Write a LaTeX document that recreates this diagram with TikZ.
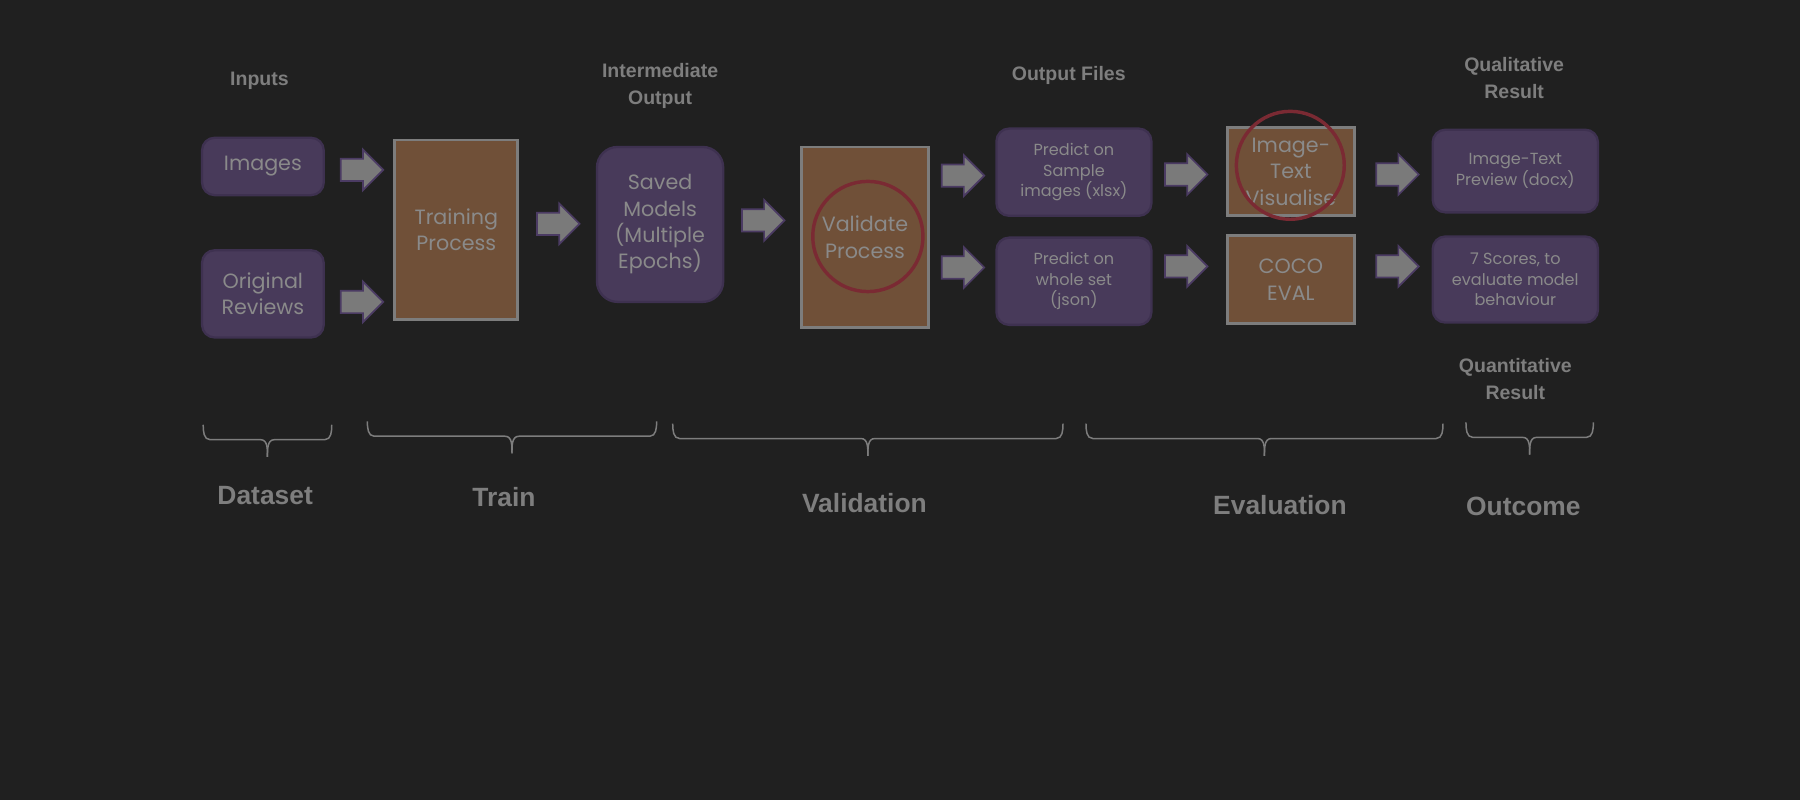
\documentclass[tikz,border=0pt]{standalone}
\usepackage{fontspec}
\newfontfamily\boxfont{Poppins}
\newfontfamily\headfont{Liberation Sans}
\usetikzlibrary{shapes.arrows,positioning}

\definecolor{bgdark}{HTML}{202020}
\definecolor{purplebox}{HTML}{483A5A}
\definecolor{purpleline}{HTML}{3E3150}
\definecolor{brownbox}{HTML}{705038}
\definecolor{greyline}{HTML}{7D7D7D}
\definecolor{greytext}{HTML}{8A8A8A}
\definecolor{headgrey}{HTML}{7E7E7E}
\definecolor{ringred}{HTML}{7A2A33}
\definecolor{arrowfill}{HTML}{7A7A7A}
\definecolor{arrowline}{HTML}{4B3B63}

\begin{document}
\begin{tikzpicture}[
x=1pt,y=-1pt,
file/.style={
  draw=purpleline,
  fill=purplebox,
  line width=2pt,
  rounded corners=11pt,
  align=center,
  text=greytext,
  font=\boxfont\fontsize{18}{23}\selectfont,
  inner sep=2pt
  },
small/.style={
  font=\boxfont\fontsize{14}{18}\selectfont
  },
process/.style={
  draw=greyline,
  fill=brownbox,
  line width=2.5pt,
  align=center,
  text=greytext,
  font=\boxfont\fontsize{18}{23}\selectfont,
  inner sep=2pt
  },
ring/.style={
  draw=ringred,
  line width=3pt,
  circle,
  inner sep=0pt
  },
flow/.style={
  single arrow,
  draw=arrowline,
  fill=arrowfill,
  line width=1.5pt,
  inner xsep=0pt,
  inner ysep=9pt,
  minimum width=34pt,
  minimum height=37pt,
  single arrow head extend=8pt
  },
head/.style={
  align=center,
  text=headgrey,
  font=\headfont\bfseries\fontsize{17}{23}\selectfont
  },
stage/.style={
  text=headgrey,
  font=\headfont\bfseries\fontsize{23}{27}\selectfont
  },
brace line/.style={
  draw=greyline,
  line width=1.3pt
  }
]
\fill[bgdark] (0,0) rectangle (1568,697);
\useasboundingbox (0,0) rectangle (1568,697);

% dataset
\node[file, minimum width=106pt, minimum height=50pt] (images) at (229,145) {Images};
\node[file, minimum width=106pt, minimum height=76pt] (reviews) at (229,256) {Original\\Reviews};

% train
\node[process, minimum width=107pt, minimum height=156pt] (train) at (397.5,200) {Training\\Process};
\node[file, rounded corners=18pt, minimum width=110pt, minimum height=135pt] (models) at (575,195.5) {Saved\\Models\\(Multiple\\Epochs)};

% validation
\node[process, minimum width=111pt, minimum height=157pt] (validate) at (753.5,206.5) {Validate\\Process};
\node[ring, minimum size=96pt] (vring) at (756,206) {};
\node[file, small, minimum width=135pt, minimum height=76pt] (sample) at (935.5,150) {Predict on\\Sample\\images (xlsx)};
\node[file, small, minimum width=135pt, minimum height=76pt] (whole) at (935.5,245) {Predict on\\whole set\\(json)};

% evaluation
\node[process, minimum width=111pt, minimum height=77pt] (visual) at (1124.5,149.5) {Image-\\Text\\Visualise};
\node[ring, minimum size=94pt] (iring) at (1124,144) {};
\node[process, minimum width=111pt, minimum height=77pt] (coco) at (1124.5,243.5) {COCO\\EVAL};

% outcome
\node[file, small, minimum width=144pt, minimum height=72pt] (preview) at (1320,149) {Image-Text\\Preview (docx)};
\node[file, small, minimum width=144pt, minimum height=75pt] (scores) at (1320,243.5) {7 Scores, to\\evaluate model\\behaviour};

% headings
\node[head] (inputs) at (226,70) {Inputs};
\node[head] (inter) at (575,75) {Intermediate\\Output};
\node[head] (outfiles) at (931,66) {Output Files};
\node[head] (quali) at (1319,68) {Qualitative\\Result};
\node[head] (quanti) at (1320,330) {Quantitative\\Result};

% block arrows
\foreach \ax/\ay [count=\ai] in {310.5/148, 310.5/263, 481.5/195, 660/192, 834/153, 834/233, 1028.5/152, 1028.5/232, 1212.5/152, 1212.5/232}
  \node[flow] (arr\ai) at (\ax,\ay) {};

% braces and stage names
\foreach \xa/\xb/\yt/\lab/\lx/\ly in {177/289/370/Dataset/231/432, 320/572/367/Train/439/433, 586/926/369/Validation/753/438, 946/1257/369/Evaluation/1115/440, 1277/1388/368/Outcome/1327/441}
{
  \pgfmathsetmacro{\xm}{(\xa+\xb)/2}
  \draw[brace line] (\xa,\yt) to[out=-90,in=180] ({\xa+6},{\yt+13}) -- ({\xm-6},{\yt+13}) to[out=0,in=90] (\xm,{\yt+28});
  \draw[brace line] (\xb,\yt) to[out=-90,in=0] ({\xb-6},{\yt+13}) -- ({\xm+6},{\yt+13}) to[out=180,in=90] (\xm,{\yt+28});
  \node[stage] (stage\lab) at (\lx,\ly) {\lab};
}
\end{tikzpicture}
\end{document}
